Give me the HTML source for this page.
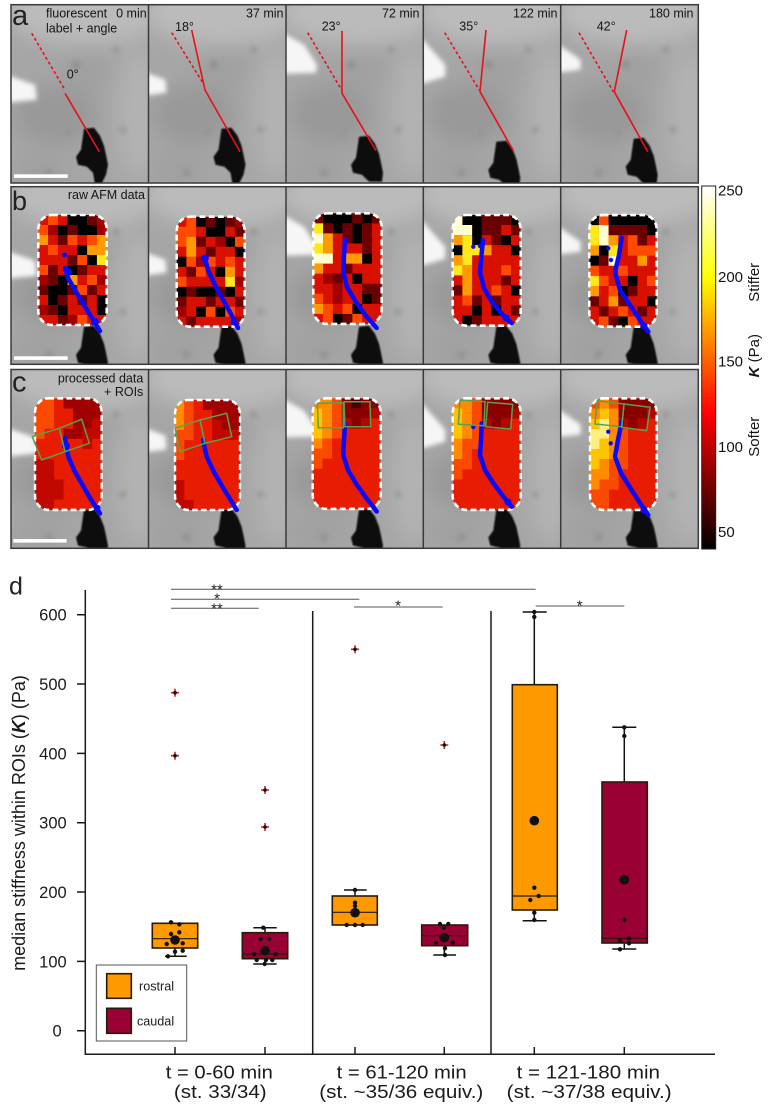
<!DOCTYPE html>
<html><head><meta charset="utf-8"><style>
html,body{margin:0;padding:0;background:#fff;}
svg{display:block;font-family:"Liberation Sans",Arial,sans-serif;}
</style></head><body>
<svg width="769" height="1110" viewBox="0 0 769 1110" xmlns="http://www.w3.org/2000/svg">
<defs>
<filter id="b6" x="-50%" y="-50%" width="200%" height="200%"><feGaussianBlur stdDeviation="10"/></filter>
<filter id="b3" x="-50%" y="-50%" width="200%" height="200%"><feGaussianBlur stdDeviation="3"/></filter>
<filter id="b2" x="-50%" y="-50%" width="200%" height="200%"><feGaussianBlur stdDeviation="2.5"/></filter>
<filter id="b1" x="-20%" y="-20%" width="140%" height="140%"><feGaussianBlur stdDeviation="0.8"/></filter>
<clipPath id="ca"><rect width="137.5" height="178.3"/></clipPath>
<clipPath id="cb"><rect width="137.5" height="177.6"/></clipPath>
<clipPath id="cc"><rect width="137.5" height="178.8"/></clipPath>
<clipPath id="hc"><rect width="70" height="110" rx="14"/></clipPath>
<linearGradient id="hot" x1="0" y1="0" x2="0" y2="1">
<stop offset="0" stop-color="#fff"/><stop offset="0.25" stop-color="#ff0"/><stop offset="0.625" stop-color="#f00"/><stop offset="1" stop-color="#000"/>
</linearGradient>
<g id="bg">
<rect width="137.5" height="180" fill="#a6a6a6"/>
<g filter="url(#b6)">
<ellipse cx="75" cy="8" rx="80" ry="32" fill="#bbbbbb"/>
<ellipse cx="128" cy="110" rx="22" ry="65" fill="#b2b2b2"/>
<ellipse cx="45" cy="110" rx="42" ry="30" fill="#999999"/>
<ellipse cx="75" cy="65" rx="25" ry="22" fill="#a0a0a0"/>
<ellipse cx="30" cy="165" rx="28" ry="16" fill="#a0a0a0"/>
</g>
<g filter="url(#b3)" fill="#8c8c8c">
<circle cx="65" cy="60" r="4"/><circle cx="105" cy="45" r="3"/><circle cx="38" cy="168" r="3.5"/><circle cx="112" cy="125" r="3"/><circle cx="58" cy="128" r="2.5"/>
</g>
</g>
<path id="blA" d="M73 124L83 123L89 131L93 141L95 150L97 160L95 170L90 180L84 180L82 168L76 162L67 160L65 152L70 145Z"/>
<path id="blB" d="M73 140L83 139L89 147L93 157L95 166L97 176L96 185L84 185L82 184L76 178L67 176L65 168L70 161Z"/>
</defs>

<!-- ROW A -->
<g transform="translate(11,4.7)" clip-path="url(#ca)"><use href="#bg"/><polygon filter="url(#b2)" fill="#f6f6f6" points="-5,70 24,80 26,95 -5,98"/><use href="#blA" filter="url(#b1)" fill="#0e0e0e"/></g>
<g transform="translate(148.5,4.7)" clip-path="url(#ca)"><use href="#bg"/><polygon filter="url(#b2)" fill="#f6f6f6" points="-5,67 17,75 18,88 -5,91"/><use href="#blA" filter="url(#b1)" fill="#0e0e0e"/></g>
<g transform="translate(286,4.7)" clip-path="url(#ca)"><use href="#bg"/><polygon filter="url(#b2)" fill="#f6f6f6" points="-5,27 18,40 31,60 30,68 -5,69"/><use href="#blB" filter="url(#b1)" fill="#0e0e0e" transform="translate(0,-8)"/></g>
<g transform="translate(423.3,4.7)" clip-path="url(#ca)"><use href="#bg"/><polygon filter="url(#b2)" fill="#f6f6f6" points="-5,30 22,60 22,72 -5,80"/><use href="#blB" filter="url(#b1)" fill="#0e0e0e" transform="translate(0,-3)"/></g>
<g transform="translate(560.7,4.7)" clip-path="url(#ca)"><use href="#bg"/><polygon filter="url(#b2)" fill="#f6f6f6" points="-5,38 20,55 20,65 -5,68"/><use href="#blB" filter="url(#b1)" fill="#0e0e0e" transform="translate(0,-6)"/></g>

<g fill="none" stroke="#e8101a" stroke-width="1.6">
<g stroke-dasharray="3 2.5">
<path d="M31.7 33.3L65 90"/><path d="M171.7 32.7L203 83"/><path d="M307.7 32.7L341.7 90"/><path d="M444.7 32.7L479.3 90"/><path d="M579 32.7L613.3 91.7"/>
</g>
<path d="M65 93.3L99.3 151.7"/>
<path d="M191.7 30L205 90L240 151.7"/>
<path d="M342 30.7L342 93.3L376 150.7"/>
<path d="M486 30L480 91.7L513.3 150.7"/>
<path d="M626.7 30L614.3 91.7L647.7 151.7"/>
</g>

<!-- ROW B -->
<g transform="translate(11,186.7)" clip-path="url(#cb)"><use href="#bg"/><polygon filter="url(#b2)" fill="#f6f6f6" points="-5,64 24,74 26,89 -5,92"/><use href="#blB" filter="url(#b1)" fill="#0e0e0e"/></g>
<g transform="translate(148.5,186.7)" clip-path="url(#cb)"><use href="#bg"/><polygon filter="url(#b2)" fill="#f6f6f6" points="-5,65 17,73 18,86 -5,89"/><use href="#blB" filter="url(#b1)" fill="#0e0e0e"/></g>
<g transform="translate(286,186.7)" clip-path="url(#cb)"><use href="#bg"/><polygon filter="url(#b2)" fill="#f6f6f6" points="-5,27 18,40 31,60 30,68 -5,69"/><use href="#blB" filter="url(#b1)" fill="#0e0e0e"/></g>
<g transform="translate(423.3,186.7)" clip-path="url(#cb)"><use href="#bg"/><polygon filter="url(#b2)" fill="#f6f6f6" points="-5,30 22,60 22,72 -5,80"/><use href="#blB" filter="url(#b1)" fill="#0e0e0e"/></g>
<g transform="translate(560.7,186.7)" clip-path="url(#cb)"><use href="#bg"/><polygon filter="url(#b2)" fill="#f6f6f6" points="-5,38 20,55 20,65 -5,68"/><use href="#blB" filter="url(#b1)" fill="#0e0e0e"/></g>

<!-- ROW C -->
<g transform="translate(11,369.5)" clip-path="url(#cc)"><use href="#bg"/><polygon filter="url(#b2)" fill="#f6f6f6" points="-5,58 24,68 26,84 -5,87"/><use href="#blB" filter="url(#b1)" fill="#0e0e0e"/></g>
<g transform="translate(148.5,369.5)" clip-path="url(#cc)"><use href="#bg"/><polygon filter="url(#b2)" fill="#f6f6f6" points="-5,58 17,66 18,80 -5,83"/><use href="#blB" filter="url(#b1)" fill="#0e0e0e"/></g>
<g transform="translate(286,369.5)" clip-path="url(#cc)"><use href="#bg"/><polygon filter="url(#b2)" fill="#f6f6f6" points="-5,28 18,41 31,60 30,67 -5,68"/><use href="#blB" filter="url(#b1)" fill="#0e0e0e"/></g>
<g transform="translate(423.3,369.5)" clip-path="url(#cc)"><use href="#bg"/><polygon filter="url(#b2)" fill="#f6f6f6" points="-5,30 22,60 22,72 -5,80"/><use href="#blB" filter="url(#b1)" fill="#0e0e0e"/></g>
<g transform="translate(560.7,369.5)" clip-path="url(#cc)"><use href="#bg"/><polygon filter="url(#b2)" fill="#f6f6f6" points="-5,38 20,55 20,65 -5,68"/><use href="#blB" filter="url(#b1)" fill="#0e0e0e"/></g>

<!-- HEATMAPS ROW B -->
<g transform="translate(38.3,215) scale(0.977,1)">
<g clip-path="url(#hc)">
<rect width="70" height="110" fill="#d81000"/>
<path fill="#000" d="M30 0h20v10h-20zM20 10h10v10h-10zM40 10h20v10h-20zM40 30h10v10h-10zM50 40h10v10h-10zM30 50h10v10h-10zM20 60h10v10h-10zM10 70h20v10h-20zM10 80h10v10h-10zM20 90h10v10h-10zM60 80h10v20h-10z"/>
<path fill="#6a0000" d="M50 0h10v10h-10zM30 10h10v10h-10zM20 20h10v10h-10zM30 40h10v10h-10zM10 50h10v10h-10zM40 50h10v10h-10zM10 60h10v10h-10zM0 70h10v10h-10zM30 70h10v10h-10zM50 70h10v10h-10zM20 80h10v10h-10zM40 80h10v10h-10zM10 90h10v10h-10zM20 100h10v10h-10z"/>
<path fill="#a00000" d="M60 0h10v10h-10zM10 10h10v10h-10zM60 10h10v10h-10zM0 60h10v10h-10zM60 60h10v10h-10zM30 100h10v10h-10zM0 90h10v10h-10z"/>
<path fill="#ff4a00" d="M10 0h10v10h-10zM0 10h10v10h-10zM30 20h10v10h-10zM50 20h10v10h-10zM10 30h10v10h-10zM40 40h10v10h-10zM0 50h10v10h-10zM50 60h10v10h-10zM40 70h10v10h-10zM40 100h10v10h-10z"/>
<path fill="#ff9a00" d="M0 20h10v10h-10zM60 20h10v10h-10zM50 30h20v10h-20zM30 60h10v10h-10z"/>
<path fill="#ffe81a" d="M60 40h10v10h-10z"/>
</g>
<rect width="70" height="110" rx="14" fill="none" stroke="#fff" stroke-width="2.6" stroke-dasharray="6 3.5"/>
</g>

<g transform="translate(176.7,216.7) scale(0.971,1)">
<g clip-path="url(#hc)">
<rect width="70" height="110" fill="#d81000"/>
<path fill="#000" d="M20 0h10v10h-10zM40 0h10v10h-10zM30 10h20v10h-20zM50 20h10v10h-10zM60 30h10v10h-10zM0 40h10v10h-10zM40 50h10v10h-10zM0 70h10v10h-10zM20 70h20v10h-20zM50 70h10v10h-10zM20 90h10v10h-10zM40 90h10v10h-10z"/>
<path fill="#6a0000" d="M30 0h10v10h-10zM50 0h10v10h-10zM60 10h10v10h-10zM20 20h10v10h-10zM30 30h10v10h-10zM10 50h10v10h-10zM10 70h10v10h-10zM40 70h10v10h-10zM0 80h10v10h-10zM30 80h10v10h-10zM60 80h10v10h-10zM10 100h10v10h-10z"/>
<path fill="#ff4a00" d="M10 0h10v10h-10zM0 10h20v10h-20zM0 20h10v10h-10zM60 20h10v10h-10zM10 40h10v10h-10zM30 40h10v10h-10zM50 40h10v10h-10zM20 50h10v10h-10zM0 60h10v10h-10zM30 90h10v10h-10zM50 90h10v10h-10z"/>
<path fill="#ff9a00" d="M10 20h10v20h-10zM50 50h10v10h-10z"/>
<path fill="#ffe81a" d="M50 60h10v10h-10z"/>
<path fill="#a00000" d="M60 0h10v10h-10zM40 20h10v10h-10zM20 40h10v10h-10zM60 60h10v10h-10zM0 90h10v10h-10zM60 100h10v10h-10z"/>
</g>
<rect width="70" height="110" rx="14" fill="none" stroke="#fff" stroke-width="2.6" stroke-dasharray="6 3.5"/>
</g>

<g transform="translate(313.3,213.3) scale(0.977,1.006)">
<g clip-path="url(#hc)">
<rect width="70" height="110" fill="#d81000"/>
<path fill="#000" d="M10 0h30v10h-30zM50 0h10v10h-10zM20 10h10v10h-10zM40 10h10v20h-10zM50 40h10v10h-10zM40 60h10v10h-10zM50 80h10v10h-10zM40 90h10v10h-10zM20 100h10v10h-10z"/>
<path fill="#6a0000" d="M0 0h10v10h-10zM40 0h10v10h-10zM60 0h10v10h-10zM10 10h10v10h-10zM30 10h10v10h-10zM50 10h10v30h-10zM30 20h10v10h-10zM30 50h10v10h-10zM20 60h10v10h-10zM50 70h20v10h-20zM60 80h10v10h-10zM30 100h10v10h-10z"/>
<path fill="#a00000" d="M10 60h10v10h-10zM20 70h10v20h-10z"/>
<path fill="#ffe81a" d="M0 10h10v10h-10zM0 30h10v10h-10z"/>
<path fill="#ffffd0" d="M0 20h10v10h-10zM0 40h20v10h-20z"/>
<path fill="#ff9a00" d="M10 20h10v20h-10zM30 40h20v10h-20zM0 50h10v10h-10zM0 90h10v10h-10z"/>
<path fill="#ff4a00" d="M0 80h10v10h-10zM10 90h10v10h-10zM30 90h10v10h-10zM10 100h10v10h-10zM40 100h10v10h-10z"/>
</g>
<rect width="70" height="110" rx="14" fill="none" stroke="#fff" stroke-width="2.6" stroke-dasharray="6 3.5"/>
</g>

<g transform="translate(452.7,215) scale(0.971,1.006)">
<g clip-path="url(#hc)">
<rect width="70" height="110" fill="#d81000"/>
<path fill="#000" d="M10 0h20v10h-20zM60 0h10v10h-10zM20 10h10v20h-10zM50 20h10v10h-10zM0 30h10v10h-10zM60 30h10v10h-10zM60 70h10v10h-10zM20 90h10v10h-10zM40 90h10v10h-10zM10 100h10v10h-10z"/>
<path fill="#6a0000" d="M30 0h30v10h-30zM30 10h20v10h-20zM60 10h10v10h-10zM40 20h10v10h-10zM50 60h10v10h-10zM0 70h10v10h-10zM20 80h10v10h-10zM40 80h10v10h-10zM60 90h10v10h-10zM20 100h10v10h-10z"/>
<path fill="#ffffd0" d="M0 0h10v20h-10zM10 10h10v10h-10z"/>
<path fill="#ff9a00" d="M0 20h10v10h-10zM30 30h10v10h-10zM0 40h10v10h-10zM10 50h10v30h-10z"/>
<path fill="#ffe81a" d="M10 20h10v30h-10zM20 30h10v10h-10zM0 50h10v10h-10z"/>
<path fill="#ff4a00" d="M50 50h10v10h-10zM40 70h10v10h-10zM10 80h10v10h-10z"/>
</g>
<rect width="70" height="110" rx="14" fill="none" stroke="#fff" stroke-width="2.6" stroke-dasharray="6 3.5"/>
</g>

<g transform="translate(589.3,215) scale(0.963,1.015)">
<g clip-path="url(#hc)">
<rect width="70" height="110" fill="#d81000"/>
<path fill="#000" d="M0 0h10v10h-10zM20 0h50v10h-50zM60 10h10v10h-10zM10 30h10v10h-10zM0 40h10v10h-10zM40 60h10v10h-10zM30 70h10v10h-10zM60 80h10v10h-10zM30 100h10v10h-10z"/>
<path fill="#6a0000" d="M20 10h40v10h-40zM50 20h10v10h-10zM10 40h10v10h-10zM40 70h10v10h-10zM0 80h10v10h-10zM30 80h10v10h-10zM10 90h10v10h-10zM50 90h10v10h-10zM20 100h10v10h-10z"/>
<path fill="#ff4a00" d="M10 0h10v10h-10zM40 20h10v10h-10zM40 30h30v10h-30zM0 50h10v10h-10zM30 50h10v10h-10zM10 60h10v10h-10zM60 60h10v10h-10zM20 70h10v10h-10zM30 90h10v10h-10zM10 100h10v10h-10zM40 100h10v10h-10z"/>
<path fill="#ff9a00" d="M20 20h10v10h-10zM0 30h10v10h-10zM50 40h10v10h-10zM0 70h10v10h-10zM20 80h10v10h-10z"/>
<path fill="#ffe81a" d="M0 10h10v20h-10zM20 30h10v10h-10zM0 60h10v10h-10z"/>
<path fill="#ffffd0" d="M10 10h10v20h-10zM20 40h10v10h-10z"/>
</g>
<rect width="70" height="110" rx="14" fill="none" stroke="#fff" stroke-width="2.6" stroke-dasharray="6 3.5"/>
</g>

<!-- HEATMAPS ROW C -->
<g transform="translate(35,398.3) scale(0.953,1.015)">
<g clip-path="url(#hc)">
<rect width="70" height="110" fill="#e81c00"/>
<path fill="#fa4a00" d="M0 0h20v30h-20zM0 30h10v10h-10z"/>
<path fill="#a00000" d="M30 0h40v10h-40zM40 10h30v10h-30zM40 20h20v10h-20zM30 30h20v10h-20z"/>
<path fill="#c00800" d="M60 20h10v10h-10zM50 30h20v10h-20zM50 40h10v10h-10zM0 60h20v20h-20zM0 80h30v20h-30zM0 100h20v10h-20z"/>
</g>
<rect width="70" height="110" rx="14" fill="none" stroke="#fff" stroke-width="2.6" stroke-dasharray="6 3.5"/>
</g>

<g transform="translate(175,400) scale(0.929,1)">
<g clip-path="url(#hc)">
<rect width="70" height="110" fill="#e81c00"/>
<path fill="#ff8c00" d="M0 0h10v30h-10z"/>
<path fill="#fa4a00" d="M10 0h10v30h-10zM0 30h20v10h-20zM0 40h10v20h-10z"/>
<path fill="#a00000" d="M30 0h40v10h-40zM40 10h30v10h-30zM50 20h20v10h-20z"/>
<path fill="#c00800" d="M40 20h10v10h-10zM40 30h30v10h-30zM0 80h10v20h-10zM0 100h20v10h-20z"/>
</g>
<rect width="70" height="110" rx="14" fill="none" stroke="#fff" stroke-width="2.6" stroke-dasharray="6 3.5"/>
</g>

<g transform="translate(312.7,398.3) scale(0.971,1.006)">
<g clip-path="url(#hc)">
<rect width="70" height="110" fill="#e81c00"/>
<path fill="#ffc400" d="M0 10h10v30h-10z"/>
<path fill="#ff8c00" d="M0 0h20v10h-20zM10 10h10v30h-10zM0 40h10v10h-10z"/>
<path fill="#fa4a00" d="M20 0h10v40h-10zM10 40h10v10h-10zM0 50h20v10h-20zM0 60h10v10h-10z"/>
<path fill="#8a0000" d="M30 0h10v10h-10zM50 0h20v10h-20zM30 10h30v10h-30zM40 20h10v10h-10z"/>
<path fill="#4a0000" d="M40 0h10v10h-10z"/>
<path fill="#b00800" d="M60 10h10v10h-10zM30 20h10v10h-10zM50 20h10v10h-10z"/>
</g>
<rect width="70" height="110" rx="14" fill="none" stroke="#fff" stroke-width="2.6" stroke-dasharray="6 3.5"/>
</g>

<g transform="translate(452.7,398.3) scale(0.971,1.015)">
<g clip-path="url(#hc)">
<rect width="70" height="110" fill="#e81c00"/>
<path fill="#ffc400" d="M0 10h10v30h-10z"/>
<path fill="#ff8c00" d="M0 0h20v10h-20zM10 10h10v30h-10zM0 40h10v20h-10z"/>
<path fill="#fa4a00" d="M20 0h10v40h-10zM10 40h20v10h-20zM10 50h10v10h-10zM0 60h20v10h-20zM0 70h10v10h-10z"/>
<path fill="#8a0000" d="M30 0h40v10h-40zM30 10h30v10h-30zM40 20h10v10h-10z"/>
<path fill="#b00800" d="M60 10h10v10h-10zM30 20h10v10h-10zM50 20h10v10h-10z"/>
</g>
<rect width="70" height="110" rx="14" fill="none" stroke="#fff" stroke-width="2.6" stroke-dasharray="6 3.5"/>
</g>

<g transform="translate(590,398.3) scale(0.953,1.015)">
<g clip-path="url(#hc)">
<rect width="70" height="110" fill="#e81c00"/>
<path fill="#ffee80" d="M10 20h10v10h-10zM0 30h20v10h-20zM0 40h10v10h-10z"/>
<path fill="#ffc400" d="M10 10h10v10h-10zM0 20h10v10h-10zM10 40h10v10h-10zM0 50h20v10h-20zM0 60h10v10h-10z"/>
<path fill="#ff8c00" d="M10 0h10v10h-10zM0 10h10v10h-10zM20 10h10v50h-10zM10 60h10v10h-10zM0 70h20v10h-20zM0 80h10v10h-10z"/>
<path fill="#fa4a00" d="M0 0h10v10h-10zM20 0h10v10h-10zM30 30h10v30h-10zM20 60h20v10h-20zM20 70h10v10h-10zM10 80h20v10h-20zM0 90h20v20h-20z"/>
<path fill="#8a0000" d="M30 0h40v10h-40zM30 10h30v10h-30zM40 20h10v10h-10z"/>
<path fill="#b00800" d="M60 10h10v10h-10zM30 20h10v10h-10zM50 20h10v10h-10z"/>
</g>
<rect width="70" height="110" rx="14" fill="none" stroke="#fff" stroke-width="2.6" stroke-dasharray="6 3.5"/>
</g>

<!-- BLUE TRACTS -->
<g fill="none" stroke="#0a0aff" stroke-width="4.5" stroke-linecap="round" stroke-linejoin="round">
<polyline points="65,268 68,278 75,290 84,305 92,318 100,331"/>
<polyline points="205,258 208,270 214,283 222,298 230,312 238,328"/>
<polyline points="345,240 344,255 343.5,272 347,287 356,302 366,316 376.7,328"/>
<polyline points="483,240 481.5,255 480,272 484,288 492,302 502,314 511.7,323.3"/>
<polyline points="621.7,238 619,255 615,272 620,290 630,305 640,320 648.3,331.7"/>
<polyline points="65,438.5 66.5,448 68.5,457 74,470 82,484 90,498 100,513.5"/>
<polyline points="203.3,440 205,449 206.7,456.7 214,472 222,486 230,499 236.7,510"/>
<polyline points="345,423.5 344,440 343.3,455 348,470 357,485 367,499 376.7,511.5"/>
<polyline points="481.7,423.3 481,440 480,455 485,470 494,484 503,496 511.7,506.7"/>
<polyline points="621.7,421.7 618,440 615,456.7 621,473 631,489 640,503 648.3,515"/>
</g>
<g fill="#0a0aff">
<circle cx="64.5" cy="255" r="2.5"/><circle cx="68" cy="272" r="4"/><circle cx="95" cy="322" r="4"/>
<circle cx="205" cy="258.3" r="3.8"/><circle cx="234" cy="322" r="3.5"/>
<circle cx="473.3" cy="246.7" r="2.2"/><circle cx="480" cy="246" r="2.2"/><circle cx="506" cy="318" r="3.5"/>
<circle cx="608.3" cy="248.3" r="2.2"/><circle cx="611" cy="260" r="2.2"/><circle cx="644" cy="326" r="3.5"/>
<circle cx="66" cy="446" r="4"/><circle cx="97" cy="508" r="3.5"/>
<circle cx="473.3" cy="427" r="2.2"/><circle cx="508" cy="502" r="3.5"/>
<circle cx="608.3" cy="431.7" r="2.2"/><circle cx="610.7" cy="443.3" r="2.2"/><circle cx="644" cy="510" r="3.5"/>
</g>

<!-- ROIs -->
<g fill="none" stroke="#5aa050" stroke-width="1.5">
<polygon points="32.3,436.7 59.3,428.3 65,451.7 41.7,460"/><polygon points="59.3,428.3 81.7,419.3 89.3,443.3 65,451.7"/>
<polygon points="175,428.3 200,420 205,443.3 180,451.7"/><polygon points="200,420 226.7,413.3 231.7,436.7 205,443.3"/>
<polygon points="317.3,403.3 343.3,402.7 343.3,427.7 318.3,427.7"/><polygon points="344,401.7 370,401.7 370.7,426.7 345,426.7"/>
<polygon points="460,400 485,401.7 484,425.7 458.3,424.3"/><polygon points="487.7,402.3 512.7,404.3 510.7,429 485.7,426.7"/>
<polygon points="597.3,400.7 624,404 621.7,426.7 595,424"/><polygon points="624,404 650,407.3 646.7,430.7 621.7,427.3"/>
</g>

<!-- scale bars -->
<g fill="#fff">
<rect x="14" y="174.3" width="53.7" height="3.6"/>
<rect x="14" y="356.3" width="53.7" height="3.6"/>
<rect x="13.3" y="539" width="53.3" height="3.6"/>
</g>

<!-- panel borders -->
<g fill="none" stroke="#3a3a3a" stroke-width="1.5">
<rect x="11" y="4.7" width="687.3" height="178.3"/>
<rect x="11" y="186.7" width="687.3" height="177.6"/>
<rect x="11" y="369.5" width="687.3" height="178.8"/>
<path d="M148.5 4.7V183M286 4.7V183M423.3 4.7V183M560.7 4.7V183M148.5 186.7V364.3M286 186.7V364.3M423.3 186.7V364.3M560.7 186.7V364.3M148.5 369.5V548.3M286 369.5V548.3M423.3 369.5V548.3M560.7 369.5V548.3"/>
</g>

<!-- panel texts -->
<g fill="#151515" font-size="12.5">
<text x="46" y="17.5">fluorescent</text>
<text x="46" y="32.4">label + angle</text>
<text x="146.7" y="17.5" text-anchor="end">0 min</text>
<text x="283.5" y="17.5" text-anchor="end">37 min</text>
<text x="419.5" y="17.5" text-anchor="end">72 min</text>
<text x="557.5" y="17.5" text-anchor="end">122 min</text>
<text x="693.5" y="17.5" text-anchor="end">180 min</text>
<text x="66.7" y="78.5">0°</text>
<text x="175" y="31">18°</text>
<text x="321.7" y="30.3">23°</text>
<text x="459.3" y="30.3">35°</text>
<text x="596.7" y="30.3">42°</text>
<text x="145" y="199" text-anchor="end">raw AFM data</text>
<text x="143.3" y="382.4" text-anchor="end">processed data</text>
<text x="143.3" y="395.8" text-anchor="end">+ ROIs</text>
</g>
<g fill="#222">
<text x="12" y="25" font-size="29">a</text>
<text x="12" y="210" font-size="27">b</text>
<text x="12" y="391.7" font-size="29">c</text>
<text x="9" y="594.3" font-size="25">d</text>
</g>

<!-- colorbar -->
<rect x="701.7" y="186" width="14" height="363" fill="url(#hot)" stroke="#222" stroke-width="1"/>
<g fill="#151515" font-size="15">
<text x="718" y="195.4">250</text>
<text x="718" y="282">200</text>
<text x="718" y="366.4">150</text>
<text x="718" y="452">100</text>
<text x="718" y="537">50</text>
<text transform="translate(759,282.3) rotate(-90)" text-anchor="middle">Stiffer</text>
<text transform="translate(759,355.7) rotate(-90)" text-anchor="middle"><tspan font-weight="bold" font-style="italic">K</tspan> (Pa)</text>
<text transform="translate(759,436.7) rotate(-90)" text-anchor="middle">Softer</text>
</g>

<!-- CHART -->
<g stroke="#555" stroke-width="1">
<line x1="171" y1="589.3" x2="535.7" y2="589.3"/>
<line x1="171" y1="599.3" x2="359.3" y2="599.3"/>
<line x1="171" y1="608.3" x2="258.7" y2="608.3"/>
<line x1="354" y1="607" x2="442.7" y2="607"/>
<line x1="535.7" y1="606" x2="624.3" y2="606"/>
</g>
<g font-size="15" text-anchor="middle" fill="#222">
<text x="217" y="594.4">**</text>
<text x="217" y="603.3">*</text>
<text x="217" y="613.6">**</text>
<text x="398" y="610.3">*</text>
<text x="579.7" y="610.6">*</text>
</g>

<g stroke="#1a1a1a" stroke-width="1.5" fill="none">
<path d="M85.3 590V1054.3H715"/>
<path d="M77 1030.7H85.3M77 961.4H85.3M77 892H85.3M77 822.7H85.3M77 753.4H85.3M77 684H85.3M77 614.7H85.3"/>
<path d="M175 1047V1054M265 1047V1054M355 1047V1054M444.3 1047V1054M534.3 1047V1054M624.3 1047V1054"/>
<path d="M312.7 611V1054M491 611V1054"/>
</g>
<g font-size="16.5" fill="#1a1a1a" text-anchor="end">
<text x="66.7" y="620.6">600</text>
<text x="66.7" y="689.9">500</text>
<text x="66.7" y="759.3">400</text>
<text x="66.7" y="828.6">300</text>
<text x="66.7" y="897.9">200</text>
<text x="66.7" y="967.3">100</text>
<text x="61.7" y="1036.6">0</text>
</g>
<text transform="translate(25,823) rotate(-90)" text-anchor="middle" font-size="18" fill="#1a1a1a">median stiffness within ROIs (<tspan font-weight="bold" font-style="italic">K</tspan>) (Pa)</text>

<g font-size="18" fill="#1a1a1a" text-anchor="middle">
<text x="219.3" y="1078.3" textLength="107" lengthAdjust="spacingAndGlyphs">t = 0-60 min</text>
<text x="220.3" y="1098" textLength="92.7" lengthAdjust="spacingAndGlyphs">(st. 33/34)</text>
<text x="401.7" y="1078.3" textLength="130" lengthAdjust="spacingAndGlyphs">t = 61-120 min</text>
<text x="401.3" y="1098" textLength="164" lengthAdjust="spacingAndGlyphs">(st. ~35/36 equiv.)</text>
<text x="588.3" y="1078.3" textLength="143.3" lengthAdjust="spacingAndGlyphs">t = 121-180 min</text>
<text x="589.2" y="1098" textLength="165" lengthAdjust="spacingAndGlyphs">(st. ~37/38 equiv.)</text>
</g>

<!-- whiskers -->
<g stroke="#111" stroke-width="1.5" fill="none">
<path d="M175 948V956.3M165 956.3H186.7"/>
<path d="M265 927.7V932.7M253.3 927.7H276.7M265 958.7V964M253.3 964H276.7"/>
<path d="M355 890V896M344 890H366.7"/>
<path d="M444.3 945.7V955M433.3 955H456"/>
<path d="M534.3 612V684.7M522.7 612H546.7M534.3 910V920.7M522.7 920.7H546.7"/>
<path d="M624.3 727.3V782M612.3 727.3H636.3M624.3 943V949M612.3 949H636.3"/>
</g>
<!-- boxes -->
<g stroke="#2a1a0a" stroke-width="1.6">
<rect x="152.3" y="923.3" width="45.4" height="24.7" fill="#ff9900"/>
<rect x="242.3" y="932.7" width="45.4" height="26" fill="#990033"/>
<rect x="332.3" y="896" width="45" height="29" fill="#ff9900"/>
<rect x="421.7" y="925" width="46" height="20.7" fill="#990033"/>
<rect x="512.3" y="684.7" width="45" height="225.3" fill="#ff9900"/>
<rect x="602" y="782" width="45.3" height="161" fill="#990033"/>
</g>
<g stroke="#2a1a0a" stroke-width="1.2">
<path d="M152.3 938.7H197.7M242.3 954H287.7M332.3 912.3H377.3M421.7 935.7H467.7M512.3 896H557.3M602 938.3H647.3"/>
</g>
<!-- points -->
<g fill="#111">
<circle cx="171" cy="922.3" r="2.2"/><circle cx="179.3" cy="924.3" r="2.2"/><circle cx="171" cy="934" r="2.2"/><circle cx="179.3" cy="932.3" r="2.2"/><circle cx="166.7" cy="944" r="2.2"/><circle cx="182.7" cy="943.3" r="2.2"/><circle cx="175" cy="951.7" r="2.2"/><circle cx="182.7" cy="950.7" r="2.2"/><circle cx="168" cy="956.3" r="2.2"/>
<circle cx="263.3" cy="927.7" r="2.2"/><circle cx="260.7" cy="939" r="2.2"/><circle cx="269" cy="939" r="2.2"/><circle cx="254.3" cy="954" r="2.2"/><circle cx="275.7" cy="954" r="2.2"/><circle cx="256.7" cy="960" r="2.2"/><circle cx="266" cy="960" r="2.2"/><circle cx="272.3" cy="960" r="2.2"/><circle cx="264.7" cy="964" r="2.2"/>
<circle cx="355" cy="890" r="2.2"/><circle cx="355" cy="902.7" r="2.2"/><circle cx="355" cy="906" r="2.2"/><circle cx="346.7" cy="925" r="2.2"/><circle cx="355" cy="925" r="2.2"/><circle cx="362.7" cy="925" r="2.2"/>
<circle cx="440" cy="924" r="2.2"/><circle cx="448.3" cy="924" r="2.2"/><circle cx="444" cy="927.7" r="2.2"/><circle cx="436" cy="942.7" r="2.2"/><circle cx="452.7" cy="942.7" r="2.2"/><circle cx="445" cy="948.3" r="2.2"/><circle cx="445" cy="955" r="2.2"/>
<circle cx="534.3" cy="612" r="2.2"/><circle cx="534.3" cy="617" r="2.2"/><circle cx="534.3" cy="887.7" r="2.2"/><circle cx="530.3" cy="900" r="2.2"/><circle cx="538.7" cy="896" r="2.2"/><circle cx="534.3" cy="912.7" r="2.2"/><circle cx="534.3" cy="920" r="2.2"/>
<circle cx="624.3" cy="727.3" r="2.2"/><circle cx="624.3" cy="736" r="2.2"/><circle cx="624.3" cy="920" r="2.2"/><circle cx="620" cy="940.7" r="2.2"/><circle cx="629" cy="938.3" r="2.2"/><circle cx="629" cy="943.3" r="2.2"/><circle cx="620" cy="949.3" r="2.2"/>
<circle cx="175" cy="940" r="4.8"/><circle cx="265" cy="950.7" r="4.8"/><circle cx="355" cy="912.7" r="4.8"/><circle cx="444.3" cy="937.7" r="4.8"/><circle cx="534.3" cy="820.7" r="4.8"/><circle cx="624.3" cy="879.7" r="4.8"/>
</g>
<!-- outliers -->
<g stroke="#d42020" stroke-width="1.6">
<path d="M171 692.7H179M175 688.7V696.7M171 755.7H179M175 751.7V759.7M261 790H269M265 786V794M261 827H269M265 823V831M351 649.3H359M355 645.3V653.3M440.3 745H448.3M444.3 741V749"/>
</g>
<g fill="#111">
<circle cx="175" cy="692.7" r="1.8"/><circle cx="175" cy="755.7" r="1.8"/><circle cx="265" cy="790" r="1.8"/><circle cx="265" cy="827" r="1.8"/><circle cx="355" cy="649.3" r="1.8"/><circle cx="444.3" cy="745" r="1.8"/>
</g>

<!-- legend -->
<rect x="96.3" y="965" width="90.4" height="76" fill="#fff" stroke="#555" stroke-width="1"/>
<rect x="106.7" y="973.7" width="24.6" height="24.6" fill="#ff9900" stroke="#2a1a0a" stroke-width="1.6"/>
<rect x="106.7" y="1008.3" width="24.6" height="25" fill="#990033" stroke="#2a1a0a" stroke-width="1.6"/>
<g font-size="12.6" fill="#1a1a1a">
<text x="139" y="990.5">rostral</text>
<text x="137" y="1025.5">caudal</text>
</g>
</svg>
</body></html>
